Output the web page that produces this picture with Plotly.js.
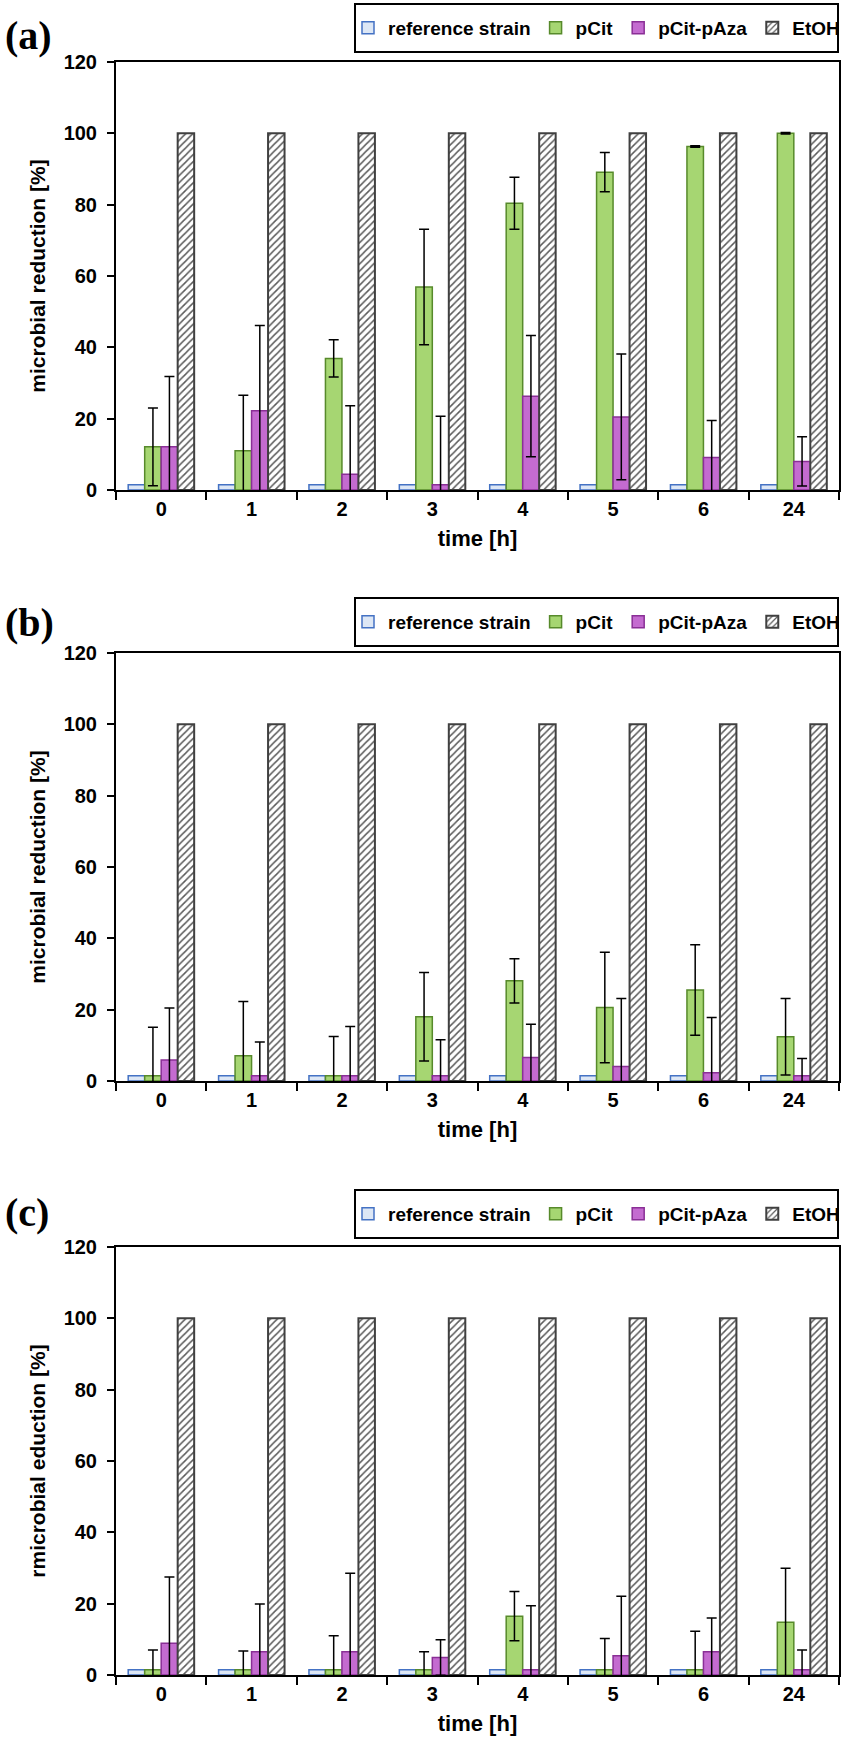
<!DOCTYPE html>
<html>
<head>
<meta charset="utf-8">
<script src="https://cdn.plot.ly/plotly-3.0.1.min.js"></script>
<style>
  html, body { margin: 0; padding: 0; background: #fff; }
</style>
</head>
<body>
<div id="chart" style="width:847px;height:1755px"></div>
<script>
// Categories and series names
const times = ['0', '1', '2', '3', '4', '5', '6', '24'];
const series_names = ['reference strain', 'pCit', 'pCit-pAza', 'EtOH'];

// Panel (a)
const ref_a = [1.5, 1.5, 1.5, 1.5, 1.5, 1.5, 1.5, 1.5];
const pcit_a = [12.1, 11.0, 36.9, 56.9, 80.4, 89.1, 96.3, 100];
const pcit_err_a = [10.9, 15.6, 5.2, 16.2, 7.3, 5.5, 0.2, 0.2];
const paza_a = [12.1, 22.2, 4.4, 1.5, 26.3, 20.5, 9.1, 8.0];
const paza_err_a = [19.7, 23.9, 19.2, 19.2, 17.0, 17.6, 10.4, 6.9];
const etoh_a = [100, 100, 100, 100, 100, 100, 100, 100];

// Panel (b)
const ref_b = [1.5, 1.5, 1.5, 1.5, 1.5, 1.5, 1.5, 1.5];
const pcit_b = [1.5, 7.1, 1.5, 18.0, 28.1, 20.6, 25.5, 12.4];
const pcit_err_b = [13.6, 15.2, 11.0, 12.4, 6.2, 15.5, 12.7, 10.7];
const paza_b = [5.9, 1.5, 1.5, 1.5, 6.6, 4.1, 2.3, 1.5];
const paza_err_b = [14.6, 9.4, 13.8, 10.1, 9.3, 19.0, 15.5, 4.8];
const etoh_b = [100, 100, 100, 100, 100, 100, 100, 100];

// Panel (c)
const ref_c = [1.5, 1.5, 1.5, 1.5, 1.5, 1.5, 1.5, 1.5];
const pcit_c = [1.5, 1.5, 1.5, 1.5, 16.5, 1.5, 1.5, 14.8];
const pcit_err_c = [5.5, 5.2, 9.5, 5.0, 6.9, 8.7, 10.8, 15.1];
const paza_c = [8.9, 6.5, 6.5, 4.9, 1.5, 5.4, 6.5, 1.5];
const paza_err_c = [18.6, 13.4, 22.0, 5.0, 17.9, 16.7, 9.5, 5.5];
const etoh_c = [100, 100, 100, 100, 100, 100, 100, 100];

const y_titles = ['microbial reduction [%]', 'microbial reduction [%]', 'rmicrobial eduction [%]'];
const panel_letters = ['(a)', '(b)', '(c)'];

// Page geometry, in pixels
const W = 847, H = 1755, ML = 116, MR = 8;
const plot_tops = [62, 653, 1247];
const plot_h = 428;
const legend_tops = [4, 598, 1190];
const letter_mid = [35, 622, 1212];

const FONT = 'Arial, "Liberation Sans", sans-serif';

function py(y) { return 1 - y / H; }
function px(x) { return (x - ML) / (W - ML - MR); }

/**
 * Builds the four bar traces of one panel.
 * @param {number} i Panel index (0, 1, 2).
 * @param {object} d Values for the panel.
 */
function panel_traces(i, d) {
  var s = i == 0 ? '' : String(i + 1);
  var err = (arr) => ({
    type: 'data', array: arr, visible: true,
    color: '#000', thickness: 1.5, width: 5,
  });
  var common = {
    type: 'bar', x: times, xaxis: 'x' + s, yaxis: 'y' + s,
    legend: 'legend' + s, hoverinfo: 'y',
  };
  return [
    Object.assign({}, common, {
      name: series_names[0], y: d.ref,
      marker: { color: '#dde7f5', line: { color: '#4472c4', width: 1.5 } },
    }),
    Object.assign({}, common, {
      name: series_names[1], y: d.pcit, error_y: err(d.pcit_err),
      marker: { color: '#a6d672', line: { color: '#578a2b', width: 1.5 } },
    }),
    Object.assign({}, common, {
      name: series_names[2], y: d.paza, error_y: err(d.paza_err),
      marker: { color: '#c46bd0', line: { color: '#8a2f96', width: 1.5 } },
    }),
    Object.assign({}, common, {
      name: series_names[3], y: d.etoh,
      marker: {
        color: '#ffffff',
        line: { color: '#404040', width: 2 },
        pattern: { shape: '/', fgcolor: '#5a5a5a', bgcolor: '#ffffff', size: 5, solidity: 0.3 },
      },
    }),
  ];
}

var panels = [
  { ref: ref_a, pcit: pcit_a, pcit_err: pcit_err_a, paza: paza_a, paza_err: paza_err_a, etoh: etoh_a },
  { ref: ref_b, pcit: pcit_b, pcit_err: pcit_err_b, paza: paza_b, paza_err: paza_err_b, etoh: etoh_b },
  { ref: ref_c, pcit: pcit_c, pcit_err: pcit_err_c, paza: paza_c, paza_err: paza_err_c, etoh: etoh_c },
];

var chart_data = [];
panels.forEach((d, i) => { chart_data = chart_data.concat(panel_traces(i, d)); });

var chart_layout = {
  width: W,
  height: H,
  margin: { l: ML, r: MR, t: 0, b: 0 },
  paper_bgcolor: '#fff',
  plot_bgcolor: '#fff',
  font: { family: FONT, color: '#000' },
  barmode: 'group',
  bargap: 0.27,
  bargroupgap: 0,
  showlegend: true,
  shapes: [],
  annotations: [],
};

panels.forEach((d, i) => {
  var s = i == 0 ? '' : String(i + 1);
  var top = plot_tops[i];

  chart_layout['xaxis' + s] = {
    anchor: 'y' + s,
    domain: [0, 1],
    type: 'category',
    showline: true, linecolor: '#000', linewidth: 2, mirror: true,
    ticks: 'outside', tickson: 'boundaries', ticklen: 8, tickwidth: 2, tickcolor: '#000',
    tickfont: { size: 20, weight: 'bold' },
    showgrid: false, zeroline: false, automargin: false,
    title: { text: 'time [h]', font: { size: 22, weight: 'bold' }, standoff: 12 },
  };
  chart_layout['yaxis' + s] = {
    anchor: 'x' + s,
    domain: [py(top + plot_h), py(top)],
    range: [0, 120], dtick: 20, tick0: 0,
    showline: true, linecolor: '#000', linewidth: 2, mirror: true,
    ticks: 'outside', ticklen: 7, tickwidth: 2, tickcolor: '#000',
    ticklabelstandoff: 6,
    tickfont: { size: 20, weight: 'bold' },
    showgrid: false, zeroline: false, automargin: false,
    title: { text: y_titles[i], font: { size: 21, weight: 'bold' }, standoff: 12 },
  };

  // Legend sits inside a framed box above the plot
  chart_layout['legend' + s] = {
    orientation: 'h',
    x: px((355 + 838) / 2), xanchor: 'center',
    y: py(legend_tops[i] + 24), yanchor: 'middle',
    font: { size: 19, weight: 'bold', color: '#000' },
    bgcolor: 'rgba(0,0,0,0)', borderwidth: 0,
  };
  chart_layout.shapes.push({
    type: 'rect', xref: 'paper', yref: 'paper',
    x0: px(355), x1: px(838), y0: py(legend_tops[i]), y1: py(legend_tops[i] + 48),
    line: { color: '#000', width: 2 }, fillcolor: 'rgba(0,0,0,0)',
  });

  chart_layout.annotations.push({
    text: panel_letters[i], showarrow: false,
    xref: 'paper', x: px(3), xanchor: 'left',
    yref: 'paper', y: py(letter_mid[i]), yanchor: 'middle',
    font: { family: '"Liberation Serif", "Times New Roman", serif', size: 40, weight: 'bold', color: '#000' },
  });
});

Plotly.newPlot('chart', chart_data, chart_layout, { displayModeBar: false, staticPlot: true });
</script>
</body>
</html>
